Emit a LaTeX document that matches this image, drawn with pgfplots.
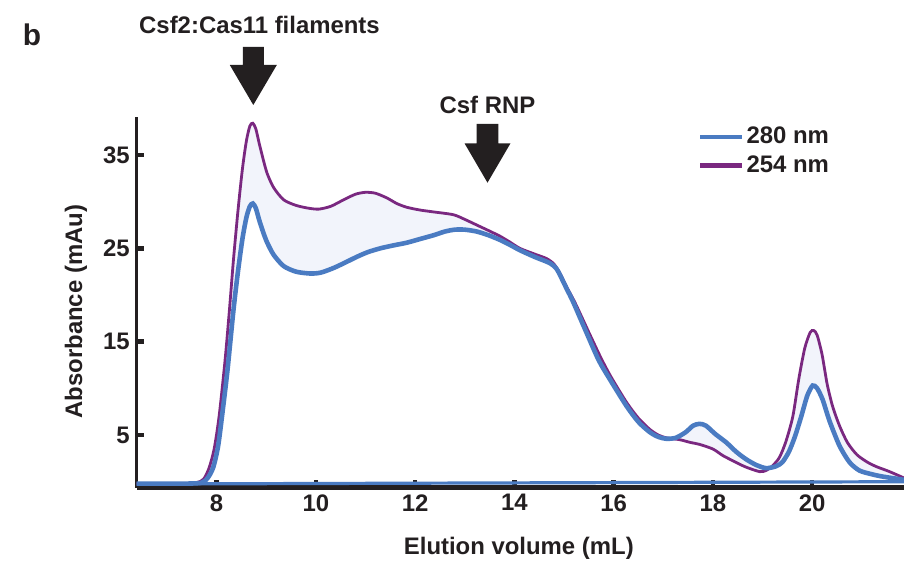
\documentclass[border=0pt]{standalone}
\usepackage{fontspec}
\setmainfont{Liberation Sans}
\usepackage{pgfplots}
\pgfplotsset{compat=1.18}
\usepgfplotslibrary{fillbetween}
\definecolor{c280}{HTML}{4A7BC2}
\definecolor{c254}{HTML}{7A2880}
\definecolor{cfill}{HTML}{F2F4FB}
\definecolor{ink}{HTML}{231F20}
\newcommand{\lbl}{\fontsize{12}{14}\selectfont\bfseries}

\begin{document}
\begin{tikzpicture}[font=\lbl, text=ink]
\begin{axis}[
    at={(0,0)}, anchor=south west,
    scale only axis, width=383.65bp, height=185.4bp,
    xmin=6.39, xmax=21.85, ymin=-0.62, ymax=39.1,
    axis lines=left,
    axis line style={-, ink},
    x axis line style={line width=2.5bp},
    y axis line style={line width=1.7bp},
    xtick={8,10,...,20},
    ytick={5,15,25,35},
    tick align=inside,
    major tick length=3.7bp,
    tick style={ink, line width=2.2bp},
    /pgf/number format/assume math mode=true,
    tick label style={font=\lbl},
    label style={font=\lbl},
    xlabel={Elution volume (mL)},
    ylabel={Absorbance (mAu)},
    xlabel style={at={(axis description cs:0.498,-0.163)}, anchor=center},
    ylabel style={at={(axis description cs:-0.0791,0.474)}, anchor=center},
    reverse legend,
    legend style={draw=none, fill=none, inner sep=0pt, font=\lbl,
        at={(axis description cs:0.731,0.978)}, anchor=north west,
        nodes={inner sep=1bp}, row sep=2.4bp},
    legend cell align=left,
    legend image code/.code={\draw[#1, line width=2.3bp] (0bp,0bp) -- (21bp,0bp);},
]
% flat trace along the bottom
\addplot[c280, line width=1.6bp, forget plot] coordinates {(6.39,-0.25) (21.85,0.0)};

% 254 nm
\addplot[name path=p254, c254, line width=1.4bp, smooth, tension=0.45] coordinates {
(6.39,-0.2) (7.3,-0.2) (7.6,-0.1) (7.74,0.3) (7.85,1.5) (7.95,3.5) (8.05,7)
(8.17,13) (8.26,18.5) (8.34,23.8) (8.43,29) (8.52,33.5) (8.6,36.5) (8.67,38.1)
(8.73,38.4) (8.79,37.8) (8.86,36.2) (8.94,34.5) (9.02,33.0) (9.15,31.5) (9.35,30.2)
(9.6,29.6) (9.85,29.3) (10.06,29.2) (10.3,29.5) (10.56,30.2) (10.8,30.8) (11.0,31.0)
(11.2,30.9) (11.43,30.4) (11.63,29.8) (11.83,29.4) (12.1,29.1) (12.37,28.9) (12.77,28.6)
(13.0,28.1) (13.24,27.5) (13.48,26.9) (13.71,26.3) (13.9,25.7) (14.11,25.0) (14.4,24.4)
(14.65,23.9) (14.8,23.3) (14.92,22.3) (15.05,20.9) (15.22,19.2) (15.5,16.0) (15.75,13.2)
(15.95,11.2) (16.26,8.5) (16.5,6.8) (16.73,5.6) (16.9,5.0) (17.06,4.7) (17.33,4.5)
(17.55,4.2) (17.73,4.0) (18.0,3.5) (18.2,2.8) (18.4,2.25) (18.65,1.6) (18.94,1.08)
(19.07,1.2) (19.2,1.7) (19.34,2.6) (19.47,4.3) (19.61,7.0) (19.73,11.0) (19.85,14.3)
(19.96,16.0) (20.03,16.2) (20.1,15.7) (20.2,13.6) (20.3,10.5) (20.41,8.1) (20.55,6.0)
(20.71,4.2) (20.9,2.9) (21.11,2.1) (21.3,1.6) (21.55,1.1) (21.85,0.4)
};
\addlegendentry{254 nm}

% 280 nm
\addplot[name path=p280, c280, line width=2.3bp, smooth, tension=0.45] coordinates {
(6.39,-0.2) (7.4,-0.2) (7.7,-0.1) (7.82,0.4) (7.93,1.5) (8.03,3.8) (8.12,7.5)
(8.22,12) (8.34,18.4) (8.43,22.5) (8.52,26) (8.6,28.3) (8.67,29.5) (8.73,29.8)
(8.79,29.3) (8.86,28.0) (8.94,26.7) (9.02,25.6) (9.15,24.3) (9.35,23.1) (9.6,22.5)
(9.89,22.3) (10.1,22.4) (10.36,22.9) (10.6,23.5) (10.83,24.1) (11.05,24.6) (11.3,25.0)
(11.55,25.3) (11.83,25.6) (12.1,26.0) (12.37,26.4) (12.6,26.8) (12.8,27.0) (13.0,27.0)
(13.24,26.8) (13.48,26.4) (13.71,25.9) (13.9,25.4) (14.11,24.8) (14.4,24.1) (14.72,23.4)
(14.85,22.8) (14.95,21.8) (15.05,20.7) (15.18,19.3) (15.45,16.0) (15.7,13.0) (15.92,11.0)
(16.26,8.1) (16.5,6.4) (16.73,5.3) (16.9,4.8) (17.06,4.6) (17.25,4.7) (17.45,5.3)
(17.6,6.0) (17.73,6.2) (17.86,6.0) (18.05,5.1) (18.27,4.2) (18.47,3.2) (18.67,2.4)
(18.87,1.8) (19.07,1.45) (19.27,1.65) (19.4,2.1) (19.53,3.2) (19.65,4.8) (19.78,7.0)
(19.9,9.2) (20.01,10.3) (20.1,10.0) (20.21,8.8) (20.35,6.5) (20.55,3.85) (20.75,2.1)
(20.95,1.2) (21.2,0.8) (21.42,0.55) (21.85,0.2)
};
\addlegendentry{280 nm}

\addplot[cfill, forget plot] fill between[of=p254 and p280];
\end{axis}

% panel letter, annotations and arrows
\node[font=\fontsize{15}{17}\selectfont\bfseries] at (-52.35bp,226.25bp) {b};
\node at (61.4bp,231.25bp) {Csf2:Cas11 filaments};
\fill[ink] (53.05bp,220.25bp) -- (63.55bp,220.25bp) -- (63.55bp,211.25bp) -- (70.05bp,211.25bp)
    -- (58.3bp,191.25bp) -- (46.55bp,211.25bp) -- (53.05bp,211.25bp) -- cycle;
\node at (175.4bp,191.25bp) {Csf RNP};
\fill[ink] (170bp,181.75bp) -- (180.8bp,181.75bp) -- (180.8bp,172.1bp) -- (186.9bp,172.1bp)
    -- (175.4bp,152.4bp) -- (163.9bp,172.1bp) -- (170bp,172.1bp) -- cycle;

\pgfresetboundingbox
\path[use as bounding box] (-68.35bp,-37.25bp) rectangle (383.65bp,243.75bp);
\end{tikzpicture}
\end{document}
